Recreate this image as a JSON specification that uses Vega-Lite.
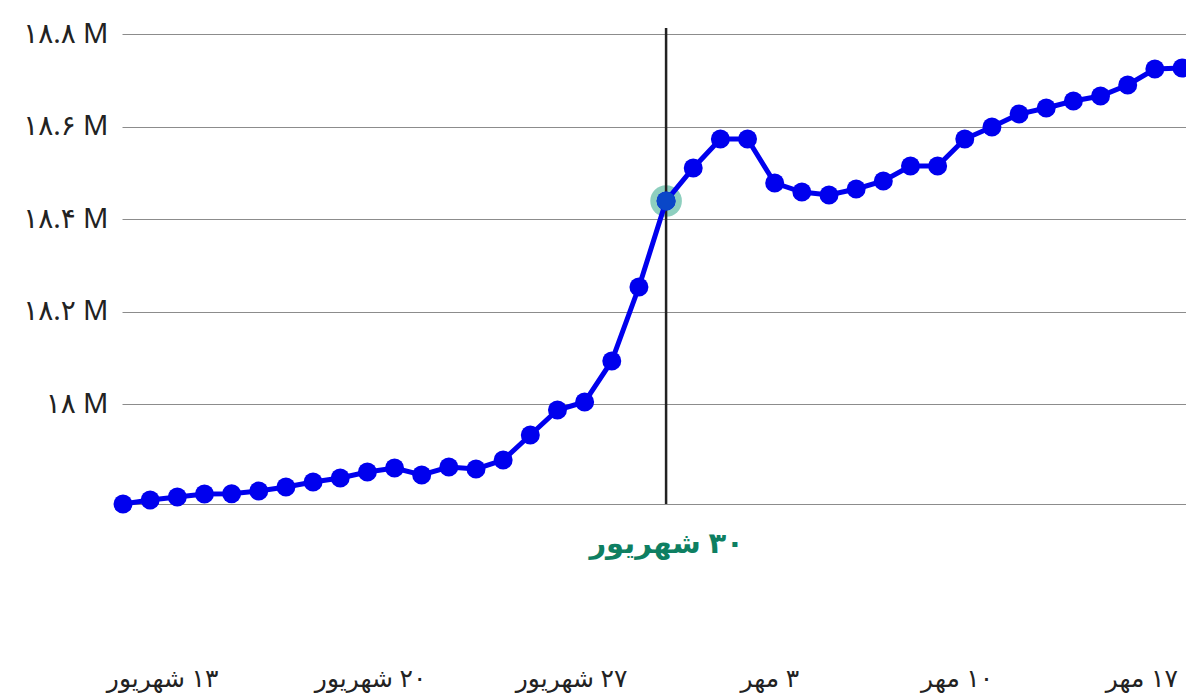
{
  "$schema": "https://vega.github.io/schema/vega-lite/v6.json",
  "autosize": "none",
  "width": 1064,
  "height": 476,
  "padding": {"left": 122, "top": 28, "right": 0, "bottom": 193},
  "background": "white",
  "config": {
    "view": {"stroke": null},
    "font": "Noto Sans, DejaVu Sans",
    "axis": {"labelFont": "Noto Sans, DejaVu Sans"}
  },
  "data": {
    "values": [
      {"i": 0, "v": 17783800},
      {"i": 1, "v": 17792400},
      {"i": 2, "v": 17798900},
      {"i": 3, "v": 17805400},
      {"i": 4, "v": 17806000},
      {"i": 5, "v": 17811900},
      {"i": 6, "v": 17820500},
      {"i": 7, "v": 17831400},
      {"i": 8, "v": 17840000},
      {"i": 9, "v": 17853000},
      {"i": 10, "v": 17861600},
      {"i": 11, "v": 17846500},
      {"i": 12, "v": 17863800},
      {"i": 13, "v": 17859500},
      {"i": 14, "v": 17878900},
      {"i": 15, "v": 17933000},
      {"i": 16, "v": 17987000},
      {"i": 17, "v": 18004300},
      {"i": 18, "v": 18093000},
      {"i": 19, "v": 18253000},
      {"i": 20, "v": 18438900},
      {"i": 21, "v": 18510300},
      {"i": 22, "v": 18573000},
      {"i": 23, "v": 18573000},
      {"i": 24, "v": 18477800},
      {"i": 25, "v": 18458400},
      {"i": 26, "v": 18451900},
      {"i": 27, "v": 18464900},
      {"i": 28, "v": 18482200},
      {"i": 29, "v": 18514600},
      {"i": 30, "v": 18514600},
      {"i": 31, "v": 18573000},
      {"i": 32, "v": 18598900},
      {"i": 33, "v": 18627000},
      {"i": 34, "v": 18640000},
      {"i": 35, "v": 18655100},
      {"i": 36, "v": 18665900},
      {"i": 37, "v": 18689700},
      {"i": 38, "v": 18724300},
      {"i": 39, "v": 18726500}
    ]
  },
  "encoding": {
    "y": {
      "field": "v",
      "type": "quantitative",
      "scale": {"domain": [17783800, 18813000], "nice": false, "zero": false},
      "axis": {
        "title": null,
        "orient": "left",
        "values": [18000000, 18200000, 18400000, 18600000, 18800000],
        "labelExpr": "datum.value == 18000000 ? '۱۸ M' : datum.value == 18200000 ? '۱۸.۲ M' : datum.value == 18400000 ? '۱۸.۴ M' : datum.value == 18600000 ? '۱۸.۶ M' : '۱۸.۸ M'",
        "labelFontSize": 28,
        "labelColor": "#222222",
        "labelPadding": 14,
        "labelBaseline": "middle",
        "ticks": false,
        "domain": false,
        "grid": true,
        "gridColor": "#8c8c8c",
        "gridWidth": 1
      }
    }
  },
  "layer": [
    {
      "transform": [{"filter": "datum.i == 20"}],
      "mark": {"type": "point", "filled": true, "size": 1000, "color": "#8ecfbf", "opacity": 1},
      "encoding": {
        "x": {"field": "i", "type": "quantitative", "scale": {"domain": [-0.037, 39.147], "nice": false, "zero": false}, "axis": null}
      }
    },
    {
      "transform": [{"filter": "datum.i == 20"}],
      "mark": {"type": "rule", "color": "#222222", "strokeWidth": 2.5},
      "encoding": {
        "x": {
          "field": "i",
          "type": "quantitative",
          "axis": {
            "title": null,
            "orient": "bottom",
            "values": [20],
            "labelExpr": "'‏۳۰ شهریور'",
            "labelFontSize": 29,
            "labelFontWeight": "bold",
            "labelColor": "#0e7f62",
            "labelBaseline": "middle",
            "labelPadding": 39,
            "ticks": false,
            "domain": false,
            "grid": false
          }
        },
        "y": {"value": 0},
        "y2": {"value": 476}
      }
    },
    {
      "mark": {"type": "line", "color": "#0000ee", "strokeWidth": 5},
      "encoding": {
        "x": {
          "field": "i",
          "type": "quantitative",
          "axis": {
            "title": null,
            "orient": "bottom",
            "values": [1.44, 9.1, 16.5, 23.8, 30.7, 37.5],
            "labelExpr": "datum.value < 5 ? '‏۱۳ شهریور' : datum.value < 12 ? '‏۲۰ شهریور' : datum.value < 20 ? '‏۲۷ شهریور' : datum.value < 27 ? '‏۳ مهر' : datum.value < 34 ? '‏۱۰ مهر' : '‏۱۷ مهر'",
            "labelFontSize": 25,
            "labelColor": "#222222",
            "labelBaseline": "middle",
            "labelPadding": 174,
            "labelOverlap": false,
            "labelBound": false,
            "labelFlush": false,
            "ticks": false,
            "domain": true,
            "domainColor": "#8c8c8c",
            "domainWidth": 1,
            "grid": false
          }
        }
      }
    },
    {
      "mark": {"type": "point", "filled": true, "size": 360, "color": "#0000ee", "opacity": 1},
      "encoding": {
        "x": {"field": "i", "type": "quantitative", "axis": null}
      }
    },
    {
      "transform": [{"filter": "datum.i == 20"}],
      "mark": {"type": "point", "filled": true, "size": 360, "color": "#0a47c8", "opacity": 1},
      "encoding": {
        "x": {"field": "i", "type": "quantitative", "axis": null}
      }
    }
  ],
  "resolve": {"axis": {"x": "independent"}}
}
